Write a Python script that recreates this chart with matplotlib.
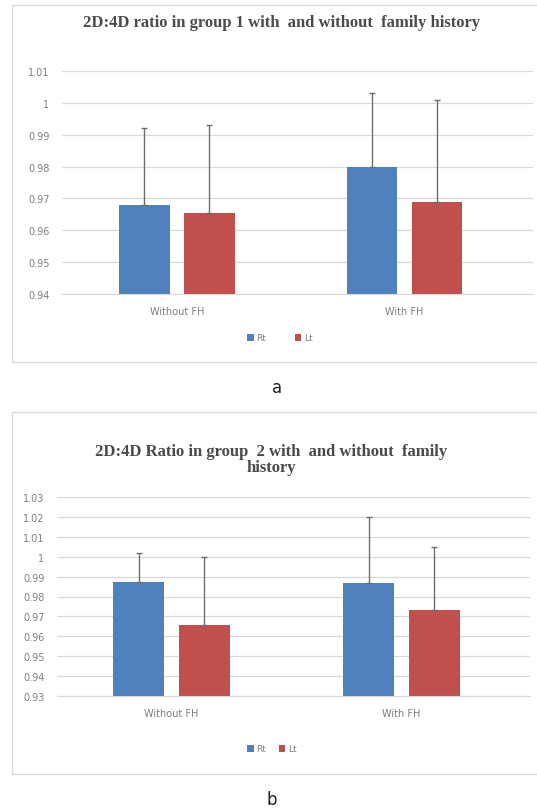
import matplotlib
matplotlib.use("Agg")
import matplotlib.pyplot as plt
from matplotlib.patches import Rectangle
from matplotlib.ticker import FuncFormatter, MultipleLocator
import numpy as np

# ---- data ----
categories = ["Without FH", "With FH"]
series_names = ["Rt", "Lt"]

a_rt_mean = [0.968, 0.980]
a_lt_mean = [0.9655, 0.969]
a_rt_sd = [0.024, 0.023]
a_lt_sd = [0.0275, 0.032]

b_rt_mean = [0.9875, 0.987]
b_lt_mean = [0.9655, 0.973]
b_rt_sd = [0.0145, 0.033]
b_lt_sd = [0.0345, 0.032]

title_a = "2D:4D ratio in group 1 with  and without  family history"
title_b = "2D:4D Ratio in group  2 with  and without  family\nhistory"

BLUE = "#4F81BD"
RED = "#C0504D"
W, H = 537, 812

fig = plt.figure(figsize=(W / 100, H / 100), dpi=100)


def px_axes(left, top, right, bottom):
    return fig.add_axes([left / W, 1 - bottom / H, (right - left) / W, (bottom - top) / H])


def fig_text(x, y, s, **kw):
    fig.text(x / W, 1 - y / H, s, **kw)


def border(left, top, right, bottom):
    fig.patches.append(Rectangle((left / W, 1 - bottom / H), (right - left) / W,
                                 (bottom - top) / H, transform=fig.transFigure,
                                 fill=False, edgecolor="#d9d9d9", lw=1.0))


def panel(ax, rt, lt, rt_sd, lt_sd, ylo, yhi, xlim):
    x = np.arange(len(categories))
    bw = 0.222
    off = 0.143
    ax.bar(x - off, rt, bw, color=BLUE, zorder=2, label=series_names[0])
    ax.bar(x + off, lt, bw, color=RED, zorder=2, label=series_names[1])
    ax.errorbar(x - off, rt, yerr=[np.zeros(len(rt)), rt_sd], fmt="none",
                ecolor="#6e6e6e", elinewidth=1.0, capsize=2.5, capthick=1.0, zorder=3)
    ax.errorbar(x + off, lt, yerr=[np.zeros(len(lt)), lt_sd], fmt="none",
                ecolor="#6e6e6e", elinewidth=1.0, capsize=2.5, capthick=1.0, zorder=3)
    ax.set_ylim(ylo, yhi)
    ax.set_xlim(*xlim)
    ax.yaxis.set_major_locator(MultipleLocator(0.01))
    ax.yaxis.set_major_formatter(FuncFormatter(lambda v, p: "%g" % round(v, 2)))
    ax.grid(axis="y", color="#d9d9d9", lw=0.9, zorder=0)
    ax.set_axisbelow(True)
    for s in ["top", "right", "left"]:
        ax.spines[s].set_visible(False)
    ax.spines["bottom"].set_color("#d9d9d9")
    ax.set_xticks(x)
    ax.set_xticklabels(categories)
    ax.tick_params(axis="both", length=0, colors="#7f7f7f", labelsize=7)
    ax.tick_params(axis="y", pad=9)
    ax.tick_params(axis="x", pad=9)
    ax.patch.set_alpha(0)


# panel a
border(12, 6, 545, 363)
axa = px_axes(62, 72, 533, 295)
panel(axa, a_rt_mean, a_lt_mean, a_rt_sd, a_lt_sd, 0.94, 1.01, (-0.505, 1.565))
fig_text(282, 23, title_a, ha="center", va="center", fontsize=12, fontweight="bold",
         family="Liberation Serif", color="#4a4a4a")
la = axa.legend(loc="center", bbox_to_anchor=(280 / W, 1 - 339 / H),
                bbox_transform=fig.transFigure, ncol=2, frameon=False, fontsize=6.5,
                handlelength=0.7, handleheight=0.7, handletextpad=0.3, columnspacing=3.2)
for t in la.get_texts():
    t.set_color("#7f7f7f")
fig_text(277, 388, "a", ha="center", va="center", fontsize=12, color="#222222")

# panel b
border(12, 413, 545, 775)
axb = px_axes(57, 498, 530, 697)
panel(axb, b_rt_mean, b_lt_mean, b_rt_sd, b_lt_sd, 0.93, 1.03, (-0.498, 1.559))
fig_text(271, 460, title_b, ha="center", va="center", fontsize=12, fontweight="bold",
         family="Liberation Serif", color="#4a4a4a", linespacing=0.95)
lb = axb.legend(loc="center", bbox_to_anchor=(272 / W, 1 - 750 / H),
                bbox_transform=fig.transFigure, ncol=2, frameon=False, fontsize=6.5,
                handlelength=0.7, handleheight=0.7, handletextpad=0.3, columnspacing=1.4)
for t in lb.get_texts():
    t.set_color("#7f7f7f")
fig_text(272, 800, "b", ha="center", va="center", fontsize=12, color="#222222")

fig.savefig("out.png", dpi=100, facecolor="white")
